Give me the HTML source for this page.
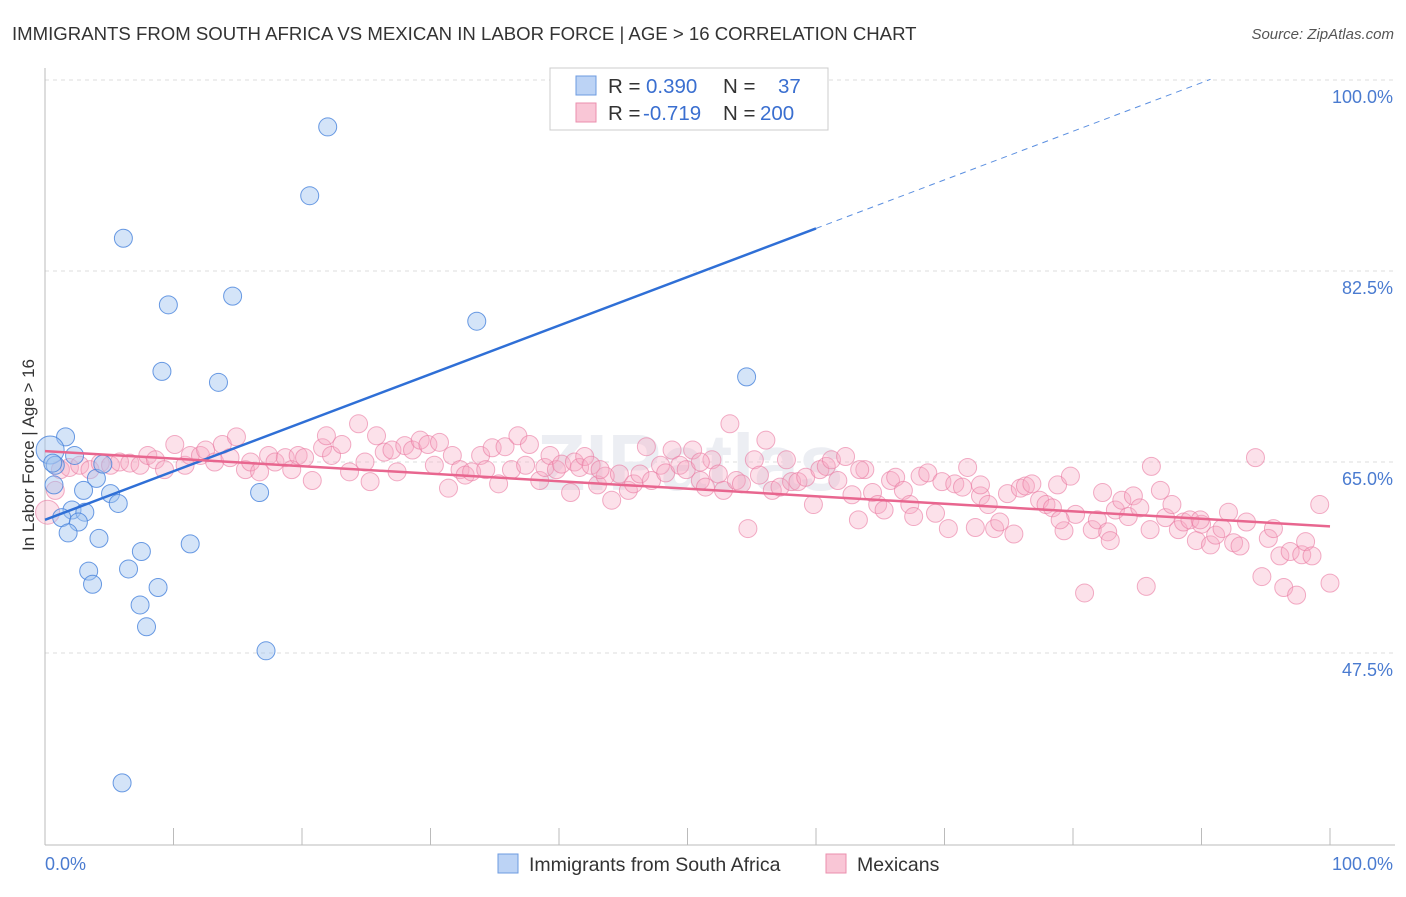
<!DOCTYPE html>
<html><head><meta charset="utf-8"><style>
body{margin:0;background:#fff;font-family:"Liberation Sans",sans-serif;}
svg text{font-family:"Liberation Sans",sans-serif;}
</style></head><body>
<svg id="chart" width="1406" height="892" viewBox="0 0 1406 892" xmlns="http://www.w3.org/2000/svg">
<text x="12" y="40" font-size="18.6" fill="#333">IMMIGRANTS FROM SOUTH AFRICA VS MEXICAN IN LABOR FORCE | AGE &gt; 16 CORRELATION CHART</text>
<text x="1394" y="39" font-size="15" fill="#555" font-style="italic" text-anchor="end">Source: ZipAtlas.com</text>
<g id="grid"></g>
<text x="690" y="490" font-size="80" fill="#eceef3" text-anchor="middle" font-weight="bold" font-family="Liberation Serif">ZIPatlas</text>
<line x1="45" y1="68" x2="45" y2="845" stroke="#bbb"/>
<line x1="45" y1="845" x2="1395" y2="845" stroke="#bbb"/>
<g id="ticks"></g>
<g id="pink"></g><g id="blue"></g><g id="trends"></g>
<text transform="translate(34,455) rotate(-90)" font-size="17" fill="#333" text-anchor="middle">In Labor Force | Age &gt; 16</text>
<text x="45" y="870" font-size="18" fill="#4a7bd0">0.0%</text>
<text x="1393" y="870" font-size="18" fill="#4a7bd0" text-anchor="end">100.0%</text>
<g>
<rect x="550" y="68" width="278" height="62" fill="#fff" stroke="#ccc"/>
<rect x="576" y="76" width="20" height="19" fill="#bcd3f5" stroke="#6d9be0"/>
<rect x="576" y="103" width="20" height="19" fill="#f9c6d6" stroke="#eb8fae"/>
<text x="608" y="93" font-size="20.5" fill="#333">R = <tspan x="646" fill="#3a6fd0">0.390</tspan><tspan x="723">N = </tspan><tspan x="778" fill="#3a6fd0">37</tspan></text>
<text x="608" y="120" font-size="20.5" fill="#333">R = <tspan x="643" fill="#3a6fd0">-0.719</tspan><tspan x="723">N = </tspan><tspan x="760" fill="#3a6fd0">200</tspan></text>
</g>
<g>
<rect x="498" y="854" width="20" height="19" fill="#bcd3f5" stroke="#6d9be0"/>
<text x="529" y="871" font-size="19.5" fill="#333">Immigrants from South Africa</text>
<rect x="826" y="854" width="20" height="19" fill="#f9c6d6" stroke="#eb8fae"/>
<text x="857" y="871" font-size="19.5" fill="#333">Mexicans</text>
</g>
</svg>
<script>
const yTicks=[100,82.5,65,47.5];
const yTickLabels=["100.0%","82.5%","65.0%","47.5%"];
const xTicks=[0,10,20,30,40,50,60,70,80,90,100];
const blueX=[22.0,20.6,6.1,14.6,9.6,33.6,9.1,13.5,54.6,1.6,0.4,0.8,2.3,4.0,3.0,0.7,5.1,5.7,16.7,2.1,3.1,1.3,2.6,1.8,4.2,7.5,11.3,3.4,6.5,3.7,8.8,7.4,7.9,17.2,6.0,0.6,4.5];
const blueY=[95.7,89.4,85.5,80.2,79.4,77.9,73.3,72.3,72.8,67.3,66.1,64.7,65.6,63.5,62.4,62.9,62.1,61.2,62.2,60.6,60.4,59.9,59.5,58.5,58.0,56.8,57.5,55.0,55.2,53.8,53.5,51.9,49.9,47.7,35.6,64.9,64.8];
const pinkX=[0.2,0.8,1.2,1.9,2.7,3.5,4.3,5.1,5.8,6.6,7.4,8.0,8.6,9.3,10.1,10.9,11.3,12.1,12.5,13.2,13.8,14.4,14.9,15.6,16.0,16.7,17.4,17.9,18.7,19.2,19.7,20.2,20.8,21.6,21.9,22.3,23.1,23.7,24.4,24.9,25.3,25.8,26.4,27.0,27.4,28.0,28.6,29.2,29.8,30.3,30.7,31.4,31.7,32.3,32.7,33.2,33.9,34.3,34.8,35.3,35.8,36.3,36.8,37.4,37.7,38.5,38.9,39.3,39.8,40.2,40.9,41.2,41.6,42.0,42.5,43.0,43.6,44.1,44.7,45.4,45.8,46.3,46.8,47.2,47.9,48.3,48.8,49.4,49.9,50.4,51.0,51.4,51.9,52.4,52.8,53.3,53.8,54.2,54.7,55.2,55.6,56.1,56.6,57.2,57.7,58.1,58.6,59.2,59.8,60.3,60.8,61.2,61.7,62.3,62.8,63.3,63.8,64.4,64.8,65.3,65.8,66.2,66.8,67.3,67.6,68.1,68.7,69.3,69.8,70.3,70.8,71.4,71.8,72.4,72.8,73.4,73.9,74.3,74.9,75.4,75.9,76.3,76.8,77.4,77.9,78.4,78.8,79.3,79.8,80.2,80.9,81.5,81.9,82.3,82.7,83.3,83.8,84.3,84.7,85.2,85.7,86.1,86.8,87.2,87.7,88.2,88.6,89.1,89.6,90.0,90.7,91.1,91.6,92.1,92.5,93.0,93.5,94.2,94.7,95.2,95.6,96.1,96.4,96.9,97.4,97.8,98.1,98.6,99.2,100,89.9,86.0,82.9,79.0,72.8,63.4,51.0,43.2];
const pinkY=[60.4,62.4,64.3,64.5,64.7,64.3,64.9,64.7,65.0,64.9,64.7,65.6,65.2,64.3,66.6,64.7,65.6,65.6,66.1,65.0,66.6,65.4,67.3,64.3,65.0,64.1,65.6,65.0,65.4,64.3,65.6,65.4,63.3,66.3,67.4,65.6,66.6,64.1,68.5,65.0,63.2,67.4,65.9,66.1,64.1,66.5,66.1,67.0,66.6,64.7,66.8,62.6,65.6,64.3,63.8,64.1,65.6,64.3,66.3,63.0,66.4,64.3,67.4,64.7,66.6,63.3,64.5,65.6,64.3,64.8,62.2,65.0,64.5,65.5,64.7,62.9,63.7,61.5,63.9,62.4,63.0,63.9,66.4,63.3,64.7,64.0,66.1,64.7,64.3,66.1,63.3,62.7,65.2,63.9,62.4,68.5,63.3,63.0,58.9,65.2,63.8,67.0,62.4,62.7,65.2,63.2,63.2,63.6,61.1,64.3,64.6,65.2,63.3,65.5,62.0,59.7,64.3,62.2,61.1,60.6,63.3,63.6,62.4,61.1,60.0,63.7,64.0,60.3,63.2,58.9,63.0,62.7,64.5,59.0,61.9,61.1,58.9,59.5,62.1,58.4,62.6,62.8,63.0,61.5,61.1,60.8,62.9,58.7,63.7,60.2,53.0,58.8,59.7,62.2,58.6,60.6,61.5,60.0,61.9,60.8,53.6,64.6,62.4,59.9,61.1,58.8,59.5,59.7,57.8,59.3,57.4,58.3,58.9,60.4,57.6,57.3,59.5,65.4,54.5,58.0,58.9,56.4,53.5,56.8,52.8,56.5,57.7,56.4,61.1,53.9,59.7,58.8,57.8,59.7,62.9,64.3,65.0,64.3];
const blueTrend=[59.7,0.445];   // intercept, slope
const pinkTrend=[66.0,-0.069];
const blueSolidEnd=60, blueDashEnd=90.7;
const bigBlue=[10]; const bigPink=[0];

const NS="http://www.w3.org/2000/svg";
const xs=v=>45+v*12.85;
const ys=v=>80+(100-v)*10.914;
function mk(tag,attrs,parent){const e=document.createElementNS(NS,tag);for(const k in attrs)e.setAttribute(k,attrs[k]);parent.appendChild(e);return e;}
const grid=document.getElementById('grid');
yTicks.forEach((t,i)=>{
  const l=mk('line',{x1:45,x2:1395,y1:ys(t),y2:ys(t),stroke:'#ddd','stroke-dasharray':'4,4'},grid);
  
  
  const tx=mk('text',{x:1393,y:ys(t)+23,'font-size':18,fill:'#4a7bd0','text-anchor':'end'},grid);
  tx.textContent=yTickLabels[i];
  
  
});
const tk=document.getElementById('ticks');
xTicks.forEach(t=>{
  const l=mk('line',{x1:xs(t),x2:xs(t),y1:828,y2:845,stroke:'#bbb'},tk);
  
  
});
const pg=document.getElementById('pink');
pinkX.forEach((x,i)=>{
  const c=mk('circle',{cx:xs(x),cy:ys(pinkY[i]),r:bigPink.includes(i)?12:9,fill:'rgba(246,170,196,0.35)',stroke:'rgba(233,120,160,0.6)','stroke-width':1},pg);
  
  
});
const bg=document.getElementById('blue');
blueX.forEach((x,i)=>{
  const c=mk('circle',{cx:xs(x),cy:ys(blueY[i]),r:bigBlue.includes(i)?14:9,fill:'rgba(160,195,240,0.45)',stroke:'rgba(70,130,220,0.8)','stroke-width':1},bg);
  
  
});
const tr=document.getElementById('trends');
const bf=x=>blueTrend[0]+blueTrend[1]*x, pf=x=>pinkTrend[0]+pinkTrend[1]*x;
let l1=mk('line',{x1:xs(0),y1:ys(bf(0)),x2:xs(blueSolidEnd),y2:ys(bf(blueSolidEnd)),stroke:'#2f6fd6','stroke-width':2.5},tr);


let l2=mk('line',{x1:xs(blueSolidEnd),y1:ys(bf(blueSolidEnd)),x2:xs(blueDashEnd),y2:ys(bf(blueDashEnd)),stroke:'#5b8fe0','stroke-width':1,'stroke-dasharray':'6,5'},tr);


let l3=mk('line',{x1:xs(0),y1:ys(pf(0)),x2:xs(100),y2:ys(pf(100)),stroke:'#e8668f','stroke-width':2.5},tr);


</script>
</body></html>
